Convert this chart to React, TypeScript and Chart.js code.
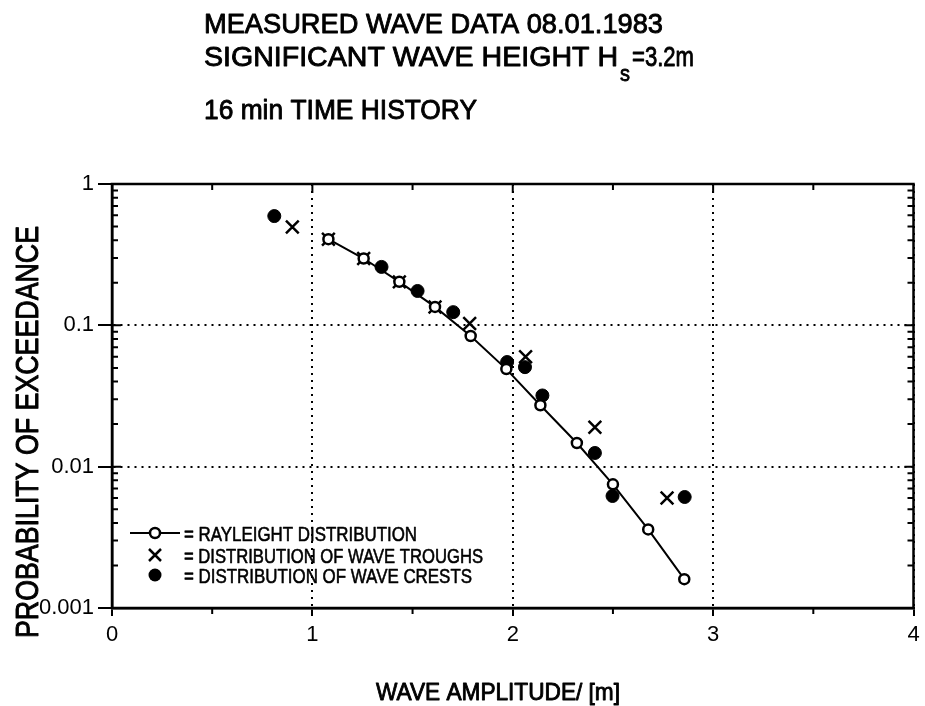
import React, { useEffect, useRef } from "react";
import { Chart, registerables } from "chart.js";

Chart.register(...registerables);

// ---------- data ----------
const titleLine1 = "MEASURED WAVE DATA 08.01.1983";
const titleLine2Main = "SIGNIFICANT WAVE HEIGHT H";
const titleLine2Sub = "s";
const titleLine2Tail = "=3.2m";
const titleLine3 = "16 min TIME HISTORY";
const xAxisTitle = "WAVE AMPLITUDE/ [m]";
const yAxisTitle = "PROBABILITY OF EXCEEDANCE";

const xTickValues = [0, 1, 2, 3, 4];
const yTickValues = [0.001, 0.01, 0.1, 1];
const yTickLabels = ["0.001", "0.01", "0.1", "1"];

const rayleighLabel = "= RAYLEIGHT DISTRIBUTION";
const rayleighX = [1.08, 1.256, 1.434, 1.612, 1.79, 1.968, 2.138, 2.32, 2.5, 2.676, 2.856];
const rayleighY = [0.407, 0.297, 0.203, 0.135, 0.084, 0.049, 0.0272, 0.0147, 0.0075, 0.0036, 0.0016];

const troughLabel = "= DISTRIBUTION OF WAVE TROUGHS";
const troughX = [0.9, 1.08, 1.256, 1.434, 1.612, 1.785, 2.064, 2.41, 2.77];
const troughY = [0.497, 0.407, 0.297, 0.203, 0.135, 0.103, 0.06, 0.019, 0.006];

const crestLabel = "= DISTRIBUTION OF WAVE CRESTS";
const crestX = [0.81, 1.345, 1.525, 1.703, 1.972, 2.061, 2.148, 2.41, 2.498, 2.858];
const crestY = [0.593, 0.259, 0.175, 0.124, 0.055, 0.0506, 0.0319, 0.0125, 0.0062, 0.0061];

const FAMILY = "'Liberation Sans Narrow', 'Liberation Sans', Arial, sans-serif";

function fitText(ctx: CanvasRenderingContext2D, text: string, x: number, y: number, w: number, font: string, thick = 0.9) {
  ctx.save();
  ctx.font = font;
  ctx.textAlign = "left";
  ctx.textBaseline = "alphabetic";
  const m = ctx.measureText(text).width;
  const s = w / m;
  ctx.translate(x, y);
  ctx.scale(s, 1);
  ctx.fillStyle = "#000";
  ctx.strokeStyle = "#000";
  ctx.lineWidth = thick;
  ctx.lineJoin = "round";
  ctx.setLineDash([]);
  ctx.fillText(text, 0, 0);
  if (thick > 0) ctx.strokeText(text, 0, 0);
  ctx.restore();
}

const decorPlugin = {
  id: "decor",
  afterDraw(chart: any) {
    const ctx: CanvasRenderingContext2D = chart.ctx;
    const { left, right, top, bottom } = chart.chartArea;
    const xs = chart.scales.x;
    const ys = chart.scales.y;
    ctx.save();
    ctx.strokeStyle = "#000";
    ctx.fillStyle = "#000";
    ctx.setLineDash([]);

    // frame
    ctx.lineWidth = 2.5;
    ctx.strokeRect(left, top, right - left, bottom - top);

    // minor log ticks on left and right
    ctx.lineWidth = 2;
    for (let d = -3; d < 0; d++) {
      for (let k = 2; k <= 9; k++) {
        const py = ys.getPixelForValue(k * Math.pow(10, d));
        ctx.beginPath();
        ctx.moveTo(left, py);
        ctx.lineTo(left + 6, py);
        ctx.moveTo(right, py);
        ctx.lineTo(right - 6, py);
        ctx.stroke();
      }
      const pyM = ys.getPixelForValue(Math.pow(10, d));
      ctx.beginPath();
      ctx.moveTo(left, pyM);
      ctx.lineTo(left + 9, pyM);
      ctx.moveTo(right, pyM);
      ctx.lineTo(right - 9, pyM);
      ctx.stroke();
    }
    // x ticks on top (inward) and half ticks at bottom
    for (let v = 0.5; v < 4; v += 0.5) {
      const px = xs.getPixelForValue(v);
      ctx.beginPath();
      ctx.moveTo(px, top);
      ctx.lineTo(px, top + (v % 1 === 0 ? 9 : 6));
      if (v % 1 !== 0) {
        ctx.moveTo(px, bottom);
        ctx.lineTo(px, bottom + 6);
      }
      ctx.stroke();
    }

    // titles
    const titleFont = `28px ${FAMILY}`;
    fitText(ctx, titleLine1, 204, 33, 459, titleFont);
    fitText(ctx, titleLine2Main, 204, 66, 414, titleFont);
    fitText(ctx, titleLine2Sub, 620, 81, 10, `22px ${FAMILY}`, 0.8);
    fitText(ctx, titleLine2Tail, 632, 66, 62, titleFont);
    fitText(ctx, titleLine3, 204, 119, 273, titleFont);

    // axis titles
    fitText(ctx, xAxisTitle, 376, 700, 244, `24px ${FAMILY}`);
    ctx.save();
    ctx.translate(38, 432);
    ctx.rotate(-Math.PI / 2);
    fitText(ctx, yAxisTitle, -206, 0, 412, `32px ${FAMILY}`, 1);
    ctx.restore();

    // legend
    const legendFont = `21px ${FAMILY}`;
    const rows = [533, 555, 575];
    const sx = 155;
    // rayleigh symbol
    ctx.lineWidth = 2;
    ctx.beginPath();
    ctx.moveTo(130, rows[0]);
    ctx.lineTo(180, rows[0]);
    ctx.stroke();
    ctx.beginPath();
    ctx.arc(sx, rows[0], 5, 0, Math.PI * 2);
    ctx.fillStyle = "#fff";
    ctx.fill();
    ctx.lineWidth = 2.5;
    ctx.stroke();
    ctx.fillStyle = "#000";
    // cross
    ctx.lineWidth = 2.5;
    ctx.beginPath();
    ctx.moveTo(sx - 6, rows[1] - 6);
    ctx.lineTo(sx + 6, rows[1] + 6);
    ctx.moveTo(sx + 6, rows[1] - 6);
    ctx.lineTo(sx - 6, rows[1] + 6);
    ctx.stroke();
    // dot
    ctx.beginPath();
    ctx.arc(sx, rows[2], 6.5, 0, Math.PI * 2);
    ctx.fill();

    const labels = chart.data.datasets.map((d: any) => d.label);
    fitText(ctx, labels[0], 184, rows[0] + 8, 233, legendFont, 0.6);
    fitText(ctx, labels[1], 184, rows[1] + 8, 299, legendFont, 0.6);
    fitText(ctx, labels[2], 184, rows[2] + 8, 288, legendFont, 0.6);

    ctx.restore();
  },
};

export default function App() {
  const ref = useRef<HTMLCanvasElement | null>(null);

  useEffect(() => {
    if (!ref.current) return;
    const toPts = (xs: number[], ys: number[]) => xs.map((x, i) => ({ x, y: ys[i] }));
    const chart = new Chart(ref.current, {
      type: "scatter",
      data: {
        datasets: [
          {
            label: rayleighLabel,
            data: toPts(rayleighX, rayleighY),
            showLine: true,
            borderColor: "#000",
            borderWidth: 2,
            pointBackgroundColor: "#fff",
            pointBorderColor: "#000",
            pointBorderWidth: 2.5,
            pointRadius: 5,
            pointStyle: "circle",
            order: 0,
          },
          {
            label: troughLabel,
            data: toPts(troughX, troughY),
            showLine: false,
            borderColor: "#000",
            backgroundColor: "#000",
            pointBorderColor: "#000",
            pointBorderWidth: 2.5,
            pointRadius: 9,
            pointStyle: "crossRot",
            order: 2,
          },
          {
            label: crestLabel,
            data: toPts(crestX, crestY),
            showLine: false,
            borderColor: "#000",
            backgroundColor: "#000",
            pointBackgroundColor: "#000",
            pointBorderColor: "#000",
            pointBorderWidth: 1,
            pointRadius: 6.5,
            pointStyle: "circle",
            order: 1,
          },
        ],
      },
      options: {
        animation: false,
        responsive: false,
        devicePixelRatio: 1,
        layout: { padding: { top: 184, right: 4, left: 0, bottom: 0 } },
        plugins: {
          legend: { display: false },
          title: { display: false },
          tooltip: { enabled: false },
        },
        scales: {
          x: {
            type: "linear",
            min: 0,
            max: 4,
            afterBuildTicks: (scale: any) => {
              scale.ticks = xTickValues.map((v) => ({ value: v }));
            },
            afterFit: (scale: any) => {
              scale.height = 98;
              scale.paddingLeft = 0;
              scale.paddingRight = 0;
            },
            ticks: {
              color: "#000",
              font: { family: FAMILY, size: 22 },
              padding: 6,
              maxRotation: 0,
              callback: (v: any) => String(v),
            },
            grid: {
              color: "#000",
              lineWidth: 2,
              tickLength: 8,
              tickColor: "#000",
              tickWidth: 2,
              tickBorderDash: [],
            },
            border: { display: true, color: "#000", width: 2.5, dash: [2, 5] },
          },
          y: {
            type: "logarithmic",
            min: 0.001,
            max: 1,
            afterBuildTicks: (scale: any) => {
              scale.ticks = yTickValues.map((v) => ({ value: v }));
            },
            afterFit: (scale: any) => {
              scale.width = 112;
              scale.paddingTop = 0;
              scale.paddingBottom = 0;
            },
            ticks: {
              color: "#000",
              font: { family: FAMILY, size: 22 },
              padding: 4,
              callback: (v: any) => {
                const i = yTickValues.findIndex((t) => Math.abs(t - v) < v * 1e-6);
                return i >= 0 ? yTickLabels[i] : "";
              },
            },
            grid: {
              color: "#000",
              lineWidth: 2,
              tickLength: 14,
              tickColor: "#000",
              tickWidth: 2,
              tickBorderDash: [],
            },
            border: { display: true, color: "#000", width: 2.5, dash: [2, 5] },
          },
        },
      },
      plugins: [decorPlugin],
    } as any);
    return () => chart.destroy();
  }, []);

  return (
    <div style={{ position: "fixed", left: 0, top: 0, width: 925, height: 706, background: "#fff" }}>
      <canvas ref={ref} width={925} height={706} style={{ display: "block" }} />
    </div>
  );
}
